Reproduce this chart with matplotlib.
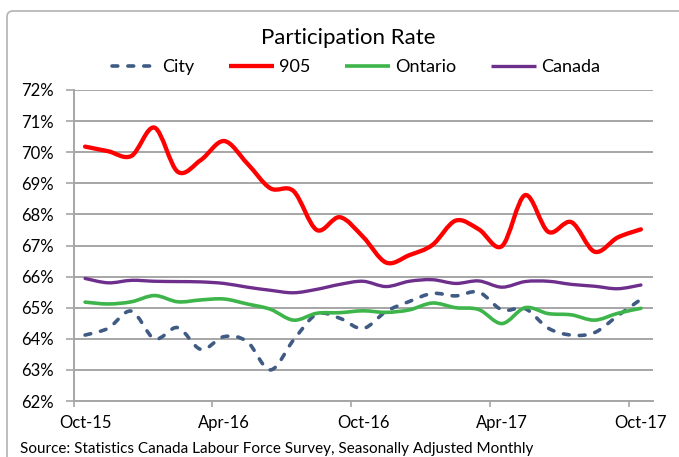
import matplotlib

matplotlib.use("Agg")

import matplotlib.pyplot as plt
import pandas as pd
from matplotlib.lines import Line2D
from matplotlib.patches import FancyBboxPatch, PathPatch
from matplotlib.path import Path
from matplotlib.transforms import IdentityTransform


# ==================================================
# DATA
# ==================================================

months = pd.date_range("2015-10-01", periods=25, freq="MS").strftime("%b-%y").tolist()

city = [64.12, 64.34, 64.89, 64.00, 64.36, 63.66, 64.07, 63.91, 63.00,
        63.96, 64.79, 64.66, 64.33, 64.88, 65.20, 65.46, 65.38, 65.50,
        64.93, 64.97, 64.34, 64.12, 64.20, 64.74, 65.27]

york_905 = [70.18, 70.03, 69.88, 70.79, 69.37, 69.75, 70.36, 69.64, 68.84,
            68.75, 67.50, 67.91, 67.28, 66.45, 66.69, 67.02, 67.80, 67.52,
            66.98, 68.62, 67.44, 67.75, 66.80, 67.26, 67.52]

ontario = [65.18, 65.12, 65.19, 65.39, 65.19, 65.25, 65.28, 65.12, 64.95,
           64.60, 64.82, 64.84, 64.90, 64.85, 64.93, 65.15, 65.00, 64.94,
           64.49, 65.00, 64.81, 64.77, 64.60, 64.82, 64.98]

canada = [65.94, 65.80, 65.88, 65.85, 65.84, 65.83, 65.78, 65.66, 65.56,
          65.48, 65.59, 65.75, 65.85, 65.68, 65.85, 65.90, 65.78, 65.86,
          65.66, 65.84, 65.85, 65.75, 65.69, 65.61, 65.73]

series_names = ["City", "905", "Ontario", "Canada"]
y_ticks = list(range(62, 73))

FONT = "Lato"


# ==================================================
# SMOOTH LINE (Excel style bezier)
# ==================================================

def smooth_path(values) -> Path:
    """
    Build a Catmull-Rom style bezier path through the points.
    """

    pts = list(enumerate(values))
    padded = [pts[0]] + pts + [pts[-1]]

    verts = [pts[0]]
    codes = [Path.MOVETO]

    for i in range(1, len(padded) - 2):
        p0, p1, p2, p3 = padded[i - 1], padded[i], padded[i + 1], padded[i + 2]
        c1 = (p1[0] + (p2[0] - p0[0]) / 6, p1[1] + (p2[1] - p0[1]) / 6)
        c2 = (p2[0] - (p3[0] - p1[0]) / 6, p2[1] - (p3[1] - p1[1]) / 6)
        verts += [c1, c2, p2]
        codes += [Path.CURVE4] * 3

    return Path(verts, codes)


# ==================================================
# PLOT
# ==================================================

fig = plt.figure(figsize=(6.79, 4.57), dpi=100)

ax = fig.add_axes([73.5 / 679, 1 - 401 / 457, 579 / 679, 311 / 457])

styles = {
    "City": dict(color="#3F5B84", lw=2.6, ls=(0, (1.6, 2.8)), capstyle="round"),
    "905": dict(color="#FF0000", lw=3.1, ls="-", capstyle="round"),
    "Ontario": dict(color="#3DB54A", lw=2.6, ls="-", capstyle="round"),
    "Canada": dict(color="#6E2F8C", lw=2.4, ls="-", capstyle="round"),
}

handles = []

for name, values in zip(series_names, [city, york_905, ontario, canada]):
    st = styles[name]

    patch = PathPatch(
        smooth_path(values),
        fill=False,
        edgecolor=st["color"],
        linewidth=st["lw"],
        linestyle=st["ls"],
        capstyle=st["capstyle"],
        joinstyle="round",
        zorder=3
    )
    ax.add_patch(patch)

    handles.append(
        Line2D([], [], color=st["color"], lw=st["lw"],
               ls=st["ls"], dash_capstyle="round", solid_capstyle="butt")
    )

ax.set_xlim(-0.5, len(months) - 0.5)
ax.set_ylim(62, 72)

# y axis
ax.set_yticks(y_ticks)
ax.set_yticklabels([f"{v}%" for v in y_ticks], fontfamily=FONT, fontsize=12)
ax.tick_params(axis="y", length=6, width=1.2, color="#A6A6A6", pad=8)
ax.grid(axis="y", color="#A6A6A6", lw=1.4, zorder=1)

# x axis: tick marks between categories, labels on categories
label_pos = list(range(0, len(months), 6))
ax.set_xticks([p - 0.5 for p in label_pos])
ax.set_xticklabels([])
ax.set_xticks(label_pos, minor=True)
ax.set_xticklabels([months[p] for p in label_pos], minor=True,
                   fontfamily=FONT, fontsize=12)
ax.tick_params(axis="x", which="major", length=4, width=1.2, color="#A6A6A6")
ax.tick_params(axis="x", which="minor", length=0, pad=10)

for side in ["top", "right"]:
    ax.spines[side].set_visible(False)
for side in ["left", "bottom"]:
    ax.spines[side].set_color("#A6A6A6")
    ax.spines[side].set_linewidth(1.4)

ax.set_axisbelow(True)

# title and legend
fig.text(348 / 679, 1 - 38 / 457, "Participation Rate",
         ha="center", va="center", fontfamily=FONT, fontsize=16)

fig.legend(
    handles, series_names,
    loc="center", bbox_to_anchor=(356 / 679, 1 - 67 / 457),
    ncol=4, frameon=False,
    prop={"family": FONT, "size": 13},
    handlelength=2.5, handletextpad=0.3, columnspacing=1.9
)

# source note
fig.text(20 / 679, 1 - 449 / 457,
         "Source: Statistics Canada Labour Force Survey, Seasonally Adjusted Monthly",
         ha="left", va="center", fontfamily=FONT, fontsize=11)

# chart frame (runs off the right and bottom edges)
frame = FancyBboxPatch(
    (7, -30), 720, 457 - 11 + 30,
    boxstyle="round,pad=0,rounding_size=6",
    transform=IdentityTransform(),
    facecolor="none", edgecolor="#B3B3B3", lw=1.2
)
fig.add_artist(frame)

fig.savefig("out.png", dpi=100)
plt.close(fig)
